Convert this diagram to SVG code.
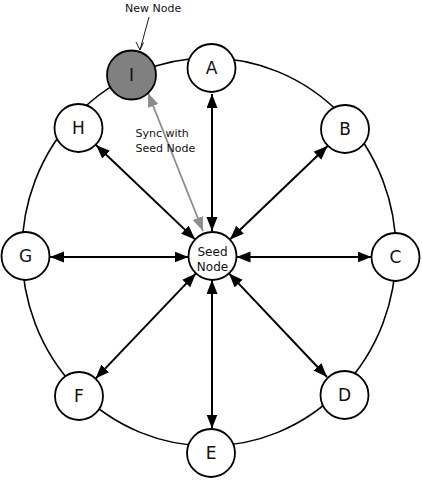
<svg xmlns="http://www.w3.org/2000/svg" width="422" height="481" viewBox="0 0 422 481">
<style>
.node{fill:#fff;stroke:#000;stroke-width:1.8}
.newnode{fill:#808080;stroke:#000;stroke-width:1.8}
.lbl{font-family:"DejaVu Sans",Verdana,sans-serif;font-size:17px;fill:#111;text-anchor:middle}
.small{font-family:"DejaVu Sans",Verdana,sans-serif;font-size:11px;fill:#111}
.seedtxt{font-family:"DejaVu Sans",Verdana,sans-serif;font-size:12px;fill:#111;text-anchor:middle}
.ring{fill:none;stroke:#000;stroke-width:1.6}
.conn{stroke:#000;stroke-width:2;fill:none;marker-start:url(#ah);marker-end:url(#ah)}
.sync{stroke:#8c8c8c;stroke-width:1.8;fill:none;marker-start:url(#ahg);marker-end:url(#ahg)}
.callout{stroke:#000;stroke-width:0.9;fill:none}
</style>
<defs>
<marker id="ah" markerUnits="userSpaceOnUse" markerWidth="15" markerHeight="12" refX="14" refY="5.5" orient="auto-start-reverse" viewBox="0 0 15 12">
<path d="M0,0 L14,5.5 L0,11 z" fill="#000"/>
</marker>
<marker id="ahg" markerUnits="userSpaceOnUse" markerWidth="15" markerHeight="12" refX="14" refY="5.5" orient="auto-start-reverse" viewBox="0 0 15 12">
<path d="M0,0 L14,5.5 L0,11 z" fill="#8c8c8c"/>
</marker>
</defs>
<rect width="422" height="481" fill="#fff"/>
<ellipse class="ring" cx="209" cy="252" rx="187" ry="194"/>
<g id="connectors">
<line class="conn" x1="212" y1="231" x2="212" y2="94"/>
<line class="conn" x1="229.9" y1="239.5" x2="327.6" y2="146"/>
<line class="conn" x1="236.5" y1="257" x2="371.5" y2="257"/>
<line class="conn" x1="229" y1="273.4" x2="327" y2="377"/>
<line class="conn" x1="212" y1="280" x2="212" y2="428.5"/>
<line class="conn" x1="195.9" y1="273.4" x2="95.6" y2="378.6"/>
<line class="conn" x1="188.5" y1="257" x2="50" y2="257"/>
<line class="conn" x1="195.1" y1="239.4" x2="96" y2="145"/>
<line class="sync" x1="203" y1="231" x2="148" y2="93"/>
<line class="callout" x1="149" y1="17" x2="140" y2="50"/>
<path class="callout" d="M136,42 L140,50 L143.5,42.5"/>
</g>
<g id="node-seed"><circle class="node" cx="212.5" cy="256" r="24"/><text class="seedtxt" x="212.5" y="255.5">Seed</text><text class="seedtxt" x="212.5" y="270.5">Node</text></g>
<g id="node-A"><circle class="node" cx="211.5" cy="68" r="24"/><text class="lbl" x="211.5" y="74">A</text></g>
<g id="node-B"><circle class="node" cx="345" cy="129" r="24"/><text class="lbl" x="345" y="135">B</text></g>
<g id="node-C"><circle class="node" cx="395.5" cy="257" r="24"/><text class="lbl" x="395.5" y="263">C</text></g>
<g id="node-D"><circle class="node" cx="344.5" cy="395" r="24"/><text class="lbl" x="344.5" y="401">D</text></g>
<g id="node-E"><circle class="node" cx="211" cy="453" r="24"/><text class="lbl" x="211" y="459">E</text></g>
<g id="node-F"><circle class="node" cx="79" cy="396" r="24"/><text class="lbl" x="79" y="402">F</text></g>
<g id="node-G"><circle class="node" cx="25.5" cy="256" r="24"/><text class="lbl" x="25.5" y="262">G</text></g>
<g id="node-H"><circle class="node" cx="78.5" cy="128" r="24"/><text class="lbl" x="78.5" y="134">H</text></g>
<g id="node-I"><circle class="newnode" cx="131.5" cy="75" r="24.5"/><text class="lbl" x="131.5" y="81">I</text></g>
<g id="labels">
<text class="small" x="125" y="12">New Node</text>
<text class="small" x="135.5" y="137">Sync with</text>
<text class="small" x="135.5" y="152">Seed Node</text>
</g>
</svg>
